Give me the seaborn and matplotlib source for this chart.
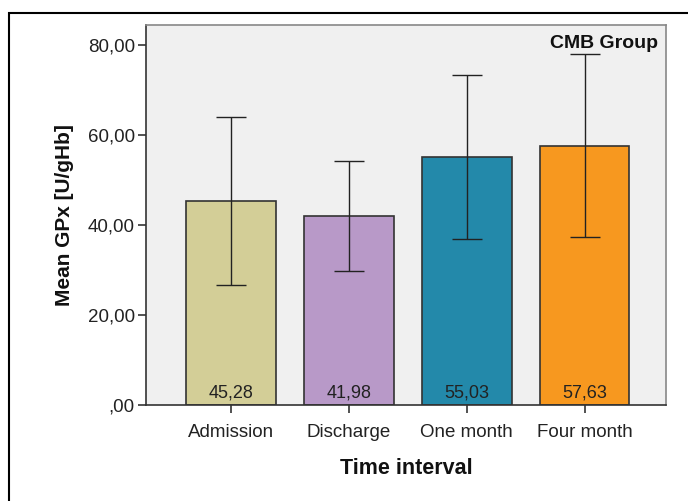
import matplotlib
matplotlib.use("Agg")
import matplotlib.pyplot as plt
import matplotlib.ticker as mticker
import numpy as np
import pandas as pd
import seaborn as sns

categories = ["Admission", "Discharge", "One month", "Four month"]
means = [45.28, 41.98, 55.03, 57.63]
err = [18.6, 12.2, 18.2, 20.4]
colors = ["#D3CE97", "#B899C8", "#2389AA", "#F7981F"]

sns.set_theme(style="white")
plt.rcParams["font.family"] = ["Liberation Sans", "DejaVu Sans"]

df = pd.DataFrame({"interval": categories, "mean": means})

fig = plt.figure(figsize=(6.88, 5.01), dpi=100)
ax = fig.add_axes([146 / 688, 96 / 501, 520 / 688, 380 / 501])
ax.set_facecolor("#F0F0F0")

sns.barplot(data=df, x="interval", y="mean", hue="interval", palette=colors,
            order=categories, errorbar=None, width=0.76, edgecolor="#333333",
            linewidth=1.2, saturation=1, legend=False, ax=ax)
ax.errorbar(np.arange(len(categories)), means, yerr=err, fmt="none",
            ecolor="#222222", elinewidth=1.0, capsize=11, capthick=1.0)

for i, m in enumerate(means):
    ax.text(i, 0.7, f"{m:.2f}".replace(".", ","), ha="center", va="bottom",
            fontsize=13, color="#222222")

ax.set_xlim(-0.72, 3.69)
ax.set_ylim(0, 84.4)
ax.set_yticks([0, 20, 40, 60, 80])
ax.yaxis.set_major_formatter(mticker.FuncFormatter(
    lambda v, p: ",00" if v == 0 else f"{v:.2f}".replace(".", ",")))
ax.tick_params(axis="both", length=6, width=1.2, color="#333333",
               labelsize=13.5, labelcolor="#222222", left=True, bottom=True)
ax.tick_params(axis="x", pad=8)
ax.tick_params(axis="y", pad=2)
ax.set_xlabel("Time interval", fontsize=15.5, fontweight="bold", labelpad=12,
              color="#111111")
ax.set_ylabel("Mean GPx [U/gHb]", fontsize=15, fontweight="bold", labelpad=10,
              color="#111111")

for s in ["left", "bottom"]:
    ax.spines[s].set_color("#333333")
    ax.spines[s].set_linewidth(1.2)
for s in ["top", "right"]:
    ax.spines[s].set_color("#888888")
    ax.spines[s].set_linewidth(1.2)

ax.text(0.985, 0.975, "CMB Group", transform=ax.transAxes, ha="right", va="top",
        fontsize=14, fontweight="bold", color="#111111")

frame = plt.Rectangle((9 / 688, -0.1), 1.2, (501 - 13) / 501 + 0.1,
                      transform=fig.transFigure, fill=False,
                      edgecolor="black", linewidth=1.5)
fig.patches.append(frame)

fig.savefig("out.png", dpi=100)
